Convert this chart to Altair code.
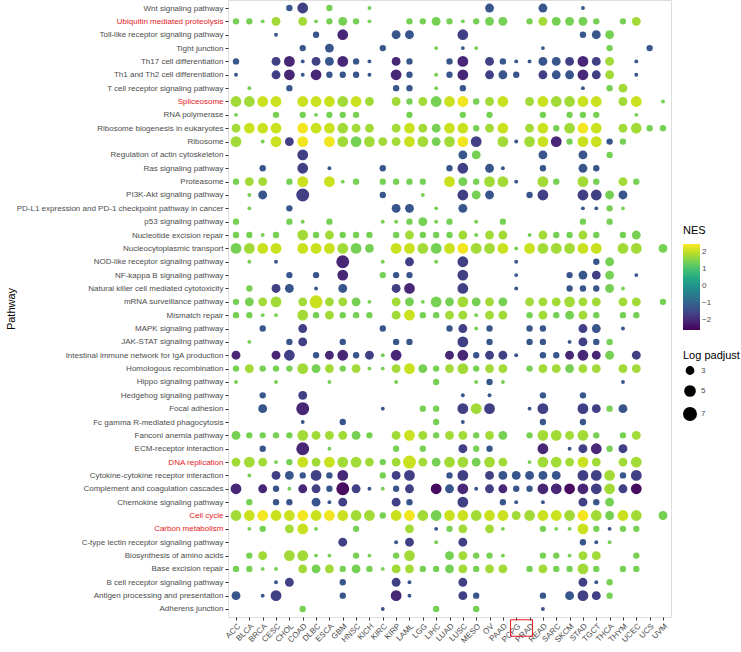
import altair as alt
import pandas as pd

# Cancer types along the x axis
CANCERS = ["ACC", "BLCA", "BRCA", "CESC", "CHOL", "COAD", "DLBC", "ESCA", "GBM",
           "HNSC", "KICH", "KIRC", "KIRP", "LAML", "LGG", "LIHC", "LUAD", "LUSC",
           "MESO", "OV", "PAAD", "PCPG", "PRAD", "READ", "SARC", "SKCM", "STAD",
           "TGCT", "THCA", "THYM", "UCEC", "UCS", "UVM"]

# KEGG pathways, top to bottom
PATHWAYS = [
    "Wnt signaling pathway", "Ubiquitin mediated proteolysis",
    "Toll-like receptor signaling pathway", "Tight junction",
    "Th17 cell differentiation", "Th1 and Th2 cell differentiation",
    "T cell receptor signaling pathway", "Spliceosome", "RNA polymerase",
    "Ribosome biogenesis in eukaryotes", "Ribosome",
    "Regulation of actin cytoskeleton", "Ras signaling pathway", "Proteasome",
    "PI3K-Akt signaling pathway",
    "PD-L1 expression and PD-1 checkpoint pathway in cancer",
    "p53 signaling pathway", "Nucleotide excision repair",
    "Nucleocytoplasmic transport", "NOD-like receptor signaling pathway",
    "NF-kappa B signaling pathway", "Natural killer cell mediated cytotoxicity",
    "mRNA surveillance pathway", "Mismatch repair", "MAPK signaling pathway",
    "JAK-STAT signaling pathway",
    "Intestinal immune network for IgA production", "Homologous recombination",
    "Hippo signaling pathway", "Hedgehog signaling pathway", "Focal adhesion",
    "Fc gamma R-mediated phagocytosis", "Fanconi anemia pathway",
    "ECM-receptor interaction", "DNA replication",
    "Cytokine-cytokine receptor interaction",
    "Complement and coagulation cascades", "Chemokine signaling pathway",
    "Cell cycle", "Carbon metabolism",
    "C-type lectin receptor signaling pathway", "Biosynthesis of amino acids",
    "Base excision repair", "B cell receptor signaling pathway",
    "Antigen processing and presentation", "Adherens junction",
]

# Pathways whose labels are shown in red
HIGHLIGHT = ["Ubiquitin mediated proteolysis", "Spliceosome", "DNA replication",
             "Cell cycle", "Carbon metabolism"]

# Cell codes: letter = NES level, digit = -log10(padj) level
NES_LEVEL = {"Y": 2.4, "y": 2.1, "L": 1.8, "G": 1.45,
             "b": -1.25, "B": -1.65, "P": -2.05, "D": -2.45}
PADJ_LEVEL = {"1": 1.5, "2": 2.5, "3": 4.0, "4": 5.5, "5": 7.5}

CELLS = {
    "Wnt signaling pathway": "CHOL:b2 COAD:B4 ESCA:G2 KICH:G1 OV:b3 READ:b3 STAD:b1",
    "Ubiquitin mediated proteolysis": "ACC:G2 BLCA:G2 BRCA:G1 CESC:L3 COAD:L3 DLBC:G1 ESCA:G2 GBM:G3 HNSC:G2 KICH:G1 LAML:G2 LGG:G2 LIHC:G3 LUAD:G2 LUSC:G1 MESO:G2 OV:G3 PAAD:G3 PRAD:G2 READ:L3 SARC:G3 SKCM:G3 STAD:G3 TGCT:G2 THYM:G2 UCEC:L3",
    "Toll-like receptor signaling pathway": "CESC:b1 DLBC:b2 GBM:P4 KIRP:b3 LAML:b3 LUSC:B4 STAD:b2 TGCT:b3 THCA:G3",
    "Tight junction": "COAD:b2 ESCA:b3 KIRC:b2 LIHC:G1 LUSC:b1 MESO:G1 READ:b1 THCA:G2 UCS:b2",
    "Th17 cell differentiation": "ACC:b2 CESC:B3 CHOL:P4 COAD:b1 DLBC:B3 ESCA:b3 GBM:P4 HNSC:b2 KICH:b1 KIRP:P3 LAML:b2 LUAD:b2 LUSC:P4 OV:B3 PAAD:b2 PCPG:b1 PRAD:b1 READ:b3 SARC:b3 SKCM:B3 STAD:P4 TGCT:B3 THCA:L3 UCEC:b1",
    "Th1 and Th2 cell differentiation": "ACC:b1 CESC:B3 CHOL:P4 COAD:b1 DLBC:P4 ESCA:b2 GBM:b2 HNSC:b2 KICH:b1 KIRP:P4 LAML:b2 LIHC:G1 LUAD:b2 LUSC:P4 OV:B3 PAAD:b3 PCPG:b2 READ:B3 SARC:b3 SKCM:b3 STAD:P4 TGCT:B3 THCA:L3 UCEC:b1",
    "T cell receptor signaling pathway": "BLCA:G1 CHOL:b2 KIRP:b2 LAML:b2 LIHC:G1 LUSC:b2 STAD:b1 THCA:G2 THYM:L3",
    "Spliceosome": "ACC:L4 BLCA:L4 BRCA:y4 CESC:y4 COAD:y4 DLBC:y4 ESCA:y4 GBM:L4 HNSC:y4 KICH:L3 KIRP:L3 LAML:G2 LGG:L3 LIHC:G4 LUAD:y4 LUSC:Y4 MESO:G2 OV:L3 PAAD:y4 PRAD:L3 READ:y4 SARC:L4 SKCM:L4 STAD:y4 TGCT:y4 THYM:L3 UCEC:y4 UVM:G1",
    "RNA polymerase": "ACC:G1 CESC:G2 COAD:G2 DLBC:G1 ESCA:G2 GBM:G2 HNSC:G2 LAML:G2 LUSC:G2 OV:G2 READ:G2 SKCM:G2 STAD:G2 TGCT:G2 UCEC:G1",
    "Ribosome biogenesis in eukaryotes": "ACC:L3 BLCA:y4 BRCA:y4 CESC:y4 COAD:Y4 DLBC:y4 ESCA:y4 GBM:L4 HNSC:L3 KICH:L3 KIRP:L3 LAML:y4 LGG:L3 LIHC:G3 LUAD:y4 LUSC:y4 MESO:G2 OV:L3 PAAD:y4 PRAD:L3 READ:y4 SARC:G2 SKCM:L4 STAD:Y4 TGCT:y4 THYM:L3 UCEC:L4 UCS:G2 UVM:G2",
    "Ribosome": "ACC:L4 BRCA:G1 CESC:y4 CHOL:B3 COAD:Y4 ESCA:Y4 GBM:L4 HNSC:G4 KICH:L4 KIRC:L3 KIRP:L3 LAML:y4 LGG:L4 LIHC:G3 LUAD:L4 LUSC:Y4 MESO:B4 PAAD:L4 PCPG:b1 PRAD:L4 READ:y4 SARC:P4 SKCM:G2 STAD:y4 TGCT:y4 THCA:b2 THYM:G2",
    "Regulation of actin cytoskeleton": "COAD:B4 LUSC:b3 MESO:G3 READ:b3 STAD:b3 THCA:G2",
    "Ras signaling pathway": "BRCA:b2 COAD:B4 ESCA:b1 KIRC:b2 LUAD:b2 LUSC:B4 OV:b3 PAAD:b1 READ:b2 STAD:b3 TGCT:b2",
    "Proteasome": "ACC:G2 BLCA:L3 BRCA:L3 CHOL:G2 COAD:y4 ESCA:y4 GBM:G1 HNSC:G2 KIRC:G2 KIRP:G2 LAML:G2 LGG:G2 LUAD:y4 LUSC:G3 MESO:G2 OV:L4 PAAD:L4 PCPG:b1 READ:L4 SARC:G2 STAD:L4 TGCT:G2 THYM:L3 UCEC:G2",
    "PI3K-Akt signaling pathway": "BLCA:G1 BRCA:b3 COAD:B5 KIRC:b2 LGG:G1 LUSC:B4 MESO:G3 OV:b3 PRAD:b2 READ:B4 STAD:B4 TGCT:B4 THCA:G3 THYM:b3",
    "PD-L1 expression and PD-1 checkpoint pathway in cancer": "BLCA:G1 CHOL:b2 KIRP:b3 LAML:b3 LIHC:G1 LUSC:b3 STAD:b1 TGCT:b1 THCA:G2 THYM:G1",
    "p53 signaling pathway": "ACC:G2 CHOL:G2 COAD:G1 ESCA:G2 KIRC:G1 KIRP:G1 LAML:G2 LGG:G3 LIHC:G1 LUAD:G2 MESO:G1 PAAD:G2 STAD:G2 THCA:G2",
    "Nucleotide excision repair": "ACC:G2 BLCA:G2 BRCA:G1 CESC:G2 COAD:L4 DLBC:G2 ESCA:L3 GBM:G2 HNSC:G2 KICH:G2 KIRP:G2 LAML:L3 LGG:G2 LIHC:G2 LUAD:G2 LUSC:L3 MESO:G1 OV:L3 PAAD:L3 PRAD:G1 READ:L3 SARC:G2 SKCM:G2 STAD:L3 TGCT:G2 THYM:G2 UCEC:G3",
    "Nucleocytoplasmic transport": "ACC:G4 BLCA:L4 BRCA:y4 CESC:y4 COAD:y4 DLBC:y4 ESCA:y4 GBM:L4 HNSC:G4 KICH:G3 KIRP:y4 LAML:y4 LGG:L4 LIHC:G4 LUAD:y4 LUSC:Y4 MESO:L4 OV:L4 PAAD:y4 PCPG:G1 PRAD:y4 READ:L4 SARC:L4 SKCM:L4 STAD:y4 TGCT:y4 THYM:L4 UCEC:L4 UVM:G3",
    "NOD-like receptor signaling pathway": "BLCA:G1 CESC:b1 GBM:P5 KIRC:G1 LAML:B3 LIHC:G1 LUSC:B4 PCPG:b1 TGCT:b2 THCA:G3",
    "NF-kappa B signaling pathway": "CHOL:b2 DLBC:b2 GBM:P4 KIRC:G2 KIRP:b2 LAML:b2 LUSC:B4 PCPG:b1 SKCM:b2 STAD:b3 TGCT:B3 THCA:G3 UCEC:b1",
    "Natural killer cell mediated cytotoxicity": "BLCA:G2 CESC:B3 CHOL:b3 DLBC:b1 GBM:b3 KIRP:B3 LAML:P4 LUSC:B4 PCPG:b1 SKCM:b2 STAD:b2 TGCT:b2 THCA:G3 THYM:G1",
    "mRNA surveillance pathway": "ACC:G2 BLCA:G3 BRCA:L3 CESC:L4 COAD:L3 DLBC:y5 ESCA:L3 GBM:L3 HNSC:G3 KICH:G1 KIRP:L3 LAML:G3 LGG:G1 LIHC:G4 LUAD:G3 LUSC:L4 MESO:G3 OV:L3 PAAD:G3 PRAD:L3 READ:L3 SARC:L3 SKCM:L4 STAD:L3 TGCT:L3 THYM:L3 UCEC:L3 UVM:G2",
    "Mismatch repair": "ACC:G2 BLCA:G2 BRCA:G1 CESC:G1 COAD:L4 DLBC:G2 ESCA:L3 GBM:G2 HNSC:G2 KICH:G2 KIRP:L3 LAML:y4 LGG:G2 LIHC:G2 LUAD:L3 LUSC:L3 MESO:G1 OV:L3 PAAD:L3 PRAD:G2 READ:L3 SARC:G2 SKCM:G3 STAD:L3 TGCT:G2 THYM:G2 UCEC:G2",
    "MAPK signaling pathway": "BRCA:b2 COAD:B3 KIRC:b2 LUAD:b2 LUSC:B3 MESO:G1 OV:b2 PRAD:b2 READ:b2 STAD:B3 TGCT:b3 THYM:b1",
    "JAK-STAT signaling pathway": "BLCA:G1 CHOL:b2 COAD:B3 GBM:b2 KIRP:b2 LAML:b2 LUSC:B4 OV:b2 PRAD:b2 READ:b2 SKCM:b1 STAD:B3 TGCT:b2 THCA:G2",
    "Intestinal immune network for IgA production": "ACC:P3 CESC:P3 CHOL:B4 DLBC:b2 ESCA:P3 GBM:P4 HNSC:b2 KICH:B3 KIRC:G1 KIRP:P4 LUAD:P3 LUSC:P4 MESO:b2 OV:B3 PAAD:B3 PCPG:b1 READ:b2 SARC:b2 SKCM:P3 STAD:P4 TGCT:P3 THCA:G3 UCEC:B3",
    "Homologous recombination": "ACC:G2 BLCA:L3 BRCA:G2 CESC:G2 CHOL:G2 COAD:L4 DLBC:G3 ESCA:L3 GBM:G2 HNSC:L3 KICH:G1 KIRC:G1 KIRP:L3 LAML:y4 LGG:G3 LIHC:G2 LUAD:L3 LUSC:L4 MESO:G2 OV:L3 PAAD:L3 PRAD:G2 READ:L3 SARC:L3 SKCM:G3 STAD:L3 TGCT:L3 THYM:L3 UCEC:L3",
    "Hippo signaling pathway": "ACC:G1 CESC:G1 ESCA:G1 KIRP:G1 LIHC:G2 MESO:G1 OV:b2 PAAD:G1 THYM:b1",
    "Hedgehog signaling pathway": "BRCA:b2 COAD:B3 LUSC:b1 OV:b1 READ:b2 STAD:b2",
    "Focal adhesion": "BRCA:b3 COAD:P5 KIRC:b1 LGG:G2 LIHC:G2 LUSC:B4 MESO:L4 OV:B4 PRAD:b1 READ:B4 STAD:B4 TGCT:B3 THCA:G2 THYM:b3",
    "Fc gamma R-mediated phagocytosis": "COAD:b1 GBM:b2 LIHC:G2 LUSC:b1 READ:b2 STAD:b2",
    "Fanconi anemia pathway": "ACC:G3 BLCA:G2 BRCA:G2 CESC:G2 CHOL:G2 COAD:L4 DLBC:L3 ESCA:L3 GBM:L3 HNSC:G3 KICH:G2 KIRP:L3 LAML:y4 LGG:L3 LIHC:G2 LUAD:L3 LUSC:L3 MESO:G2 OV:L3 PAAD:G3 PRAD:G2 READ:L4 SARC:L4 SKCM:L3 STAD:L4 TGCT:G2 THYM:G2 UCEC:L3",
    "ECM-receptor interaction": "BRCA:b2 COAD:P5 ESCA:G1 KIRP:G2 LGG:G2 LUSC:B3 MESO:G2 OV:b2 READ:P4 SKCM:b1 STAD:B3 TGCT:P4 THCA:G2 THYM:B3",
    "DNA replication": "ACC:L3 BLCA:L4 BRCA:L3 CESC:G1 CHOL:G2 COAD:y4 DLBC:L3 ESCA:y4 GBM:L4 HNSC:L4 KICH:L3 KIRC:G2 KIRP:L3 LAML:y5 LGG:L3 LIHC:G3 LUAD:L4 LUSC:L4 MESO:G3 OV:L4 PAAD:L3 PRAD:G1 READ:L4 SARC:L4 SKCM:L3 STAD:y4 TGCT:L3 THYM:L3 UCEC:L4",
    "Cytokine-cytokine receptor interaction": "BLCA:G1 CESC:B3 CHOL:b3 COAD:b2 DLBC:B4 ESCA:b2 GBM:P4 KIRC:G2 KIRP:B3 LAML:B4 LUAD:b2 LUSC:B4 OV:B3 PAAD:b3 PCPG:b3 PRAD:b3 READ:b3 SARC:b3 STAD:B4 TGCT:B4 THCA:L4 THYM:b2 UCEC:B4",
    "Complement and coagulation cascades": "ACC:P4 BRCA:P3 CESC:b2 CHOL:G1 COAD:P3 DLBC:B3 ESCA:b2 GBM:D5 HNSC:B3 KICH:b1 KIRC:G1 KIRP:b2 LAML:B3 LIHC:D4 LUAD:b3 LUSC:P4 MESO:b1 OV:B3 PAAD:P3 PCPG:b2 PRAD:b2 READ:P4 SARC:P4 SKCM:D4 STAD:P4 TGCT:B4 THCA:L4 THYM:B3 UCEC:D4",
    "Chemokine signaling pathway": "BLCA:G2 CESC:b2 CHOL:b2 DLBC:b3 ESCA:b1 GBM:B3 KIRP:B3 LAML:b2 LUSC:B4 PAAD:b2 PCPG:b1 READ:b1 STAD:B3 TGCT:b2 THCA:G3",
    "Cell cycle": "ACC:L4 BLCA:y4 BRCA:Y4 CESC:y4 CHOL:y4 COAD:Y4 DLBC:y4 ESCA:Y4 GBM:y4 HNSC:L4 KICH:L4 KIRC:G2 KIRP:y4 LAML:Y4 LGG:L4 LIHC:G4 LUAD:y4 LUSC:y4 MESO:L4 OV:y4 PAAD:y4 PCPG:L3 PRAD:L4 READ:y4 SARC:y4 SKCM:L4 STAD:Y4 TGCT:L4 THCA:G3 THYM:y4 UCEC:L4 UVM:G3",
    "Carbon metabolism": "BLCA:G1 BRCA:G2 CHOL:L3 COAD:y4 DLBC:G1 HNSC:G2 LAML:L3 LIHC:b1 LUAD:G2 LUSC:L3 OV:L3 PAAD:G1 READ:G2 SARC:G1 SKCM:G1 STAD:y4 TGCT:G2 THCA:b1 THYM:G2 UCEC:G2",
    "C-type lectin receptor signaling pathway": "GBM:B3 KIRP:b1 LAML:B3 LIHC:G1 LUSC:B3 STAD:b2 TGCT:b1 THCA:G1",
    "Biosynthesis of amino acids": "BLCA:G2 BRCA:L3 CHOL:L4 COAD:L4 DLBC:G1 ESCA:G1 HNSC:G2 KICH:G1 KIRP:G2 LAML:L4 LUAD:G3 LUSC:L3 MESO:G2 OV:G2 PAAD:G1 READ:G2 SARC:G2 SKCM:G1 STAD:L3 TGCT:L3 UCEC:G2",
    "Base excision repair": "ACC:G2 BLCA:G2 BRCA:G1 CESC:G1 COAD:L3 DLBC:G3 ESCA:L3 GBM:G2 HNSC:G3 KICH:G2 KIRC:G1 KIRP:L3 LAML:L3 LGG:G2 LIHC:G2 LUAD:G3 LUSC:L3 MESO:G2 OV:L3 PAAD:L3 PRAD:G2 READ:L3 SARC:G2 SKCM:G2 STAD:L4 TGCT:G2 THYM:G2 UCEC:G2",
    "B cell receptor signaling pathway": "CESC:b1 CHOL:B3 GBM:b2 KIRP:B3 LAML:b1 LUSC:B3 STAD:B3 TGCT:b1 THCA:G2",
    "Antigen processing and presentation": "ACC:b3 BRCA:b1 CESC:B4 GBM:b2 KIRP:P4 LAML:b1 LUSC:B3 MESO:b2 READ:b2 SKCM:b3 STAD:B4 TGCT:B3 THCA:G2",
    "Adherens junction": "COAD:G2 KIRC:b1 LIHC:G2 MESO:G2 READ:b1",
}

rows = []
for pathway in PATHWAYS:
    for cell in CELLS[pathway].split():
        cancer, code = cell.split(":")
        rows.append({"pathway": pathway, "cancer": cancer,
                     "nes": NES_LEVEL[code[0]], "padj": PADJ_LEVEL[code[1]]})
df = pd.DataFrame(rows)

W, H = 443, 617
FONT = "Liberation Sans"

red_expr = "indexof(" + str(HIGHLIGHT) + ", datum.value) >= 0 ? '#e41a1c' : '#4d4d4d'"

x_enc = alt.X("cancer:N", sort=CANCERS, scale=alt.Scale(domain=CANCERS, padding=0.6),
              axis=alt.Axis(title=None, labelAngle=-45, labelFontSize=8,
                            labelColor="#4d4d4d", tickColor="#333333", tickSize=3,
                            domain=False, labelPadding=2))

dots = alt.Chart(df).mark_circle(opacity=1).encode(
    x=x_enc,
    y=alt.Y("pathway:N", sort=PATHWAYS, scale=alt.Scale(domain=PATHWAYS, padding=0.6),
            axis=alt.Axis(title="Pathway", titleFontSize=11, titleFontWeight="normal",
                          titleColor="black", titlePadding=12, labelFontSize=8,
                          labelColor={"expr": red_expr}, tickColor="#333333",
                          tickSize=3, domain=False, labelPadding=2, labelLimit=400)),
    color=alt.Color("nes:Q", scale=alt.Scale(scheme="viridis", domain=[-2.6, 2.5]),
                    legend=alt.Legend(title="NES", orient="none", legendX=455, legendY=225,
                                      gradientLength=86, gradientThickness=17,
                                      values=[2, 1, 0, -1, -2], labelFontSize=8,
                                      titleFontSize=11, titleFontWeight="normal",
                                      titlePadding=8, labelColor="#4d4d4d")),
    size=alt.Size("padj:Q", scale=alt.Scale(domain=[1.3, 8], range=[10, 180]),
                  legend=alt.Legend(title="Log padjust", orient="none", legendX=455,
                                    legendY=350, values=[3, 5, 7], labelFontSize=8,
                                    titleFontSize=11, titleFontWeight="normal",
                                    symbolFillColor="black", symbolStrokeColor="black",
                                    symbolOpacity=1, labelColor="#4d4d4d",
                                    rowPadding=4)),
)

# red frame around the PRAD tick label
frame = alt.Chart(pd.DataFrame({"cancer": ["PRAD"]})).mark_point(
    shape="M-1,-0.75L1,-0.75L1,0.75L-1,0.75Z", size=484, filled=False,
    color="#e41a1c", strokeWidth=1, opacity=1, xOffset=-8, yOffset=0,
).encode(x=x_enc, y=alt.value(H + 11))

chart = alt.layer(dots, frame).properties(
    width=W, height=H,
    padding={"left": 228, "top": 0, "right": 70, "bottom": 35},
    autosize=alt.AutoSizeParams(type="none"),
).configure_view(stroke="#555555", strokeWidth=0.8).configure(font=FONT)

chart.save("out.html", embed_options={"renderer": "svg", "actions": False})
